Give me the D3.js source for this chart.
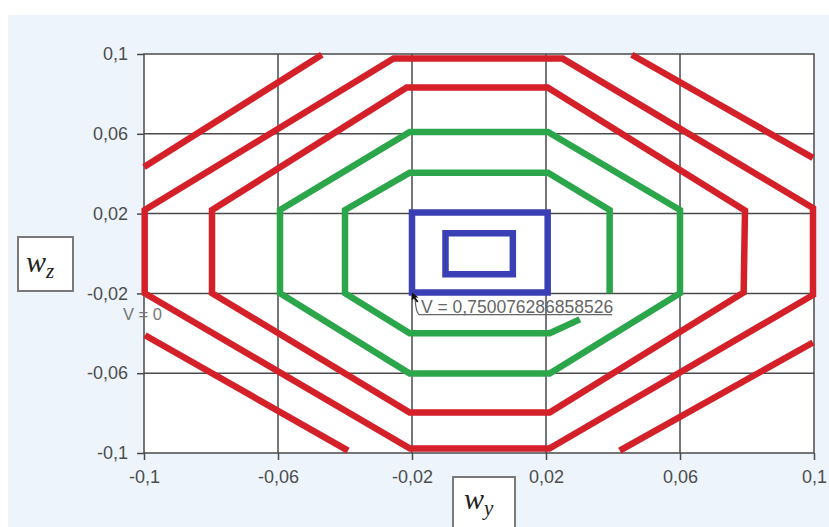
<!DOCTYPE html>
<html>
<head>
<meta charset="utf-8">
<script src="https://cdn.jsdelivr.net/npm/d3@7/dist/d3.min.js"></script>
<style>
  html, body { margin: 0; padding: 0; background: #fff; }
  svg { display: block; }
</style>
</head>
<body>
<svg id="chart" width="829" height="527"></svg>
<script>
// Level curves of V(wy, wz) (data units)
var xTicks = [-0.1, -0.06, -0.02, 0.02, 0.06, 0.1];
var yTicks = [-0.1, -0.06, -0.02, 0.02, 0.06, 0.1];
var gridValues = [-0.06, -0.02, 0.02, 0.06];

// closed curves repeat their first point at the end
var blueInner = [[-0.01, 0.0101], [0.0101, 0.0101], [0.0101, -0.0104], [-0.01, -0.0104], [-0.01, 0.0101]];
var blueOuter = [[-0.02, 0.0205], [0.0205, 0.0205], [0.0205, -0.0196], [-0.02, -0.0196], [-0.02, 0.0205]];
var greenInner = [[0.039, -0.0199], [0.039, 0.0218], [0.0206, 0.0405], [-0.0207, 0.0405], [-0.04, 0.0218],
                  [-0.04, -0.0199], [-0.0207, -0.04], [0.0211, -0.04], [0.0301, -0.033]];
var greenOuter = [[-0.0594, 0.0218], [-0.0207, 0.0609], [0.0206, 0.0609], [0.06, 0.0218], [0.06, -0.0199],
                  [0.0211, -0.0602], [-0.0207, -0.0602], [-0.0594, -0.0199], [-0.0594, 0.0218]];
var redInner = [[-0.0797, 0.0218], [-0.0216, 0.0832], [0.0205, 0.0832], [0.0794, 0.0215], [0.0790, -0.0195],
                [0.0211, -0.0797], [-0.0207, -0.0797], [-0.0797, -0.0199], [-0.0797, 0.0218]];
var redOuter = [[-0.0998, 0.0218], [-0.0255, 0.0977], [0.025, 0.0977], [0.0997, 0.0228], [0.0997, -0.0208],
                [0.021, -0.0978], [-0.0206, -0.0978], [-0.0998, -0.0199], [-0.0998, 0.0218]];
var redCornerTL = [[-0.1, 0.0434], [-0.0469, 0.0996]];
var redCornerTR = [[0.0456, 0.0996], [0.0997, 0.0479]];
var redCornerBL = [[-0.0997, -0.041], [-0.0391, -0.0988]];
var redCornerBR = [[0.042, -0.0988], [0.0997, -0.0446]];

var levels = [
  {color: "#d42129", points: redOuter},
  {color: "#d42129", points: redInner},
  {color: "#d42129", points: redCornerTL},
  {color: "#d42129", points: redCornerTR},
  {color: "#d42129", points: redCornerBL},
  {color: "#d42129", points: redCornerBR},
  {color: "#2ca64b", points: greenOuter},
  {color: "#2ca64b", points: greenInner},
  {color: "#3b3fb6", points: blueOuter},
  {color: "#3b3fb6", points: blueInner}
];

var markerPoint = [-0.02, -0.0196];
var markerLabel = "V = 0,750076286858526";
var zeroLabel = "V = 0";

(function() {
  'use strict';

  var svg = d3.select("#chart");
  var plot = {left: 144, top: 54, width: 670, height: 399};

  var x = d3.scaleLinear().domain([-0.1, 0.1]).range([plot.left, plot.left + plot.width]);
  var y = d3.scaleLinear().domain([-0.1, 0.1]).range([plot.top + plot.height, plot.top]);

  var fmt = function(d) { return String(+d.toFixed(2)).replace(".", ","); };

  // light blue panel behind the chart
  svg.append("rect")
    .attr("x", 8).attr("y", 15).attr("width", 821).attr("height", 512)
    .attr("fill", "#edf4fb");

  svg.append("rect")
    .attr("x", plot.left).attr("y", plot.top)
    .attr("width", plot.width).attr("height", plot.height)
    .attr("fill", "#fff");

  // grid
  var grid = svg.append("g").attr("stroke", "#4a4a4a").attr("stroke-width", 1.5);
  grid.selectAll("line.v").data(gridValues).enter().append("line")
    .attr("x1", function(d) { return x(d); }).attr("x2", function(d) { return x(d); })
    .attr("y1", plot.top).attr("y2", plot.top + plot.height);
  grid.selectAll("line.h").data(gridValues).enter().append("line")
    .attr("y1", function(d) { return y(d); }).attr("y2", function(d) { return y(d); })
    .attr("x1", plot.left).attr("x2", plot.left + plot.width);

  svg.append("rect")
    .attr("x", plot.left).attr("y", plot.top)
    .attr("width", plot.width).attr("height", plot.height)
    .attr("fill", "none").attr("stroke", "#4a4a4a").attr("stroke-width", 1.5);

  // axes
  var yAxis = svg.append("g")
    .attr("transform", "translate(" + plot.left + ",0)")
    .call(d3.axisLeft(y).tickValues(yTicks).tickFormat(fmt).tickSize(7).tickSizeOuter(0).tickPadding(9));
  var xAxis = svg.append("g")
    .attr("transform", "translate(0," + (plot.top + plot.height) + ")")
    .call(d3.axisBottom(x).tickValues(xTicks).tickFormat(fmt).tickSize(7).tickSizeOuter(0).tickPadding(10));

  [xAxis, yAxis].forEach(function(a) {
    a.select(".domain").remove();
    a.selectAll(".tick line").attr("stroke", "#4a4a4a").attr("stroke-width", 1.5);
    a.selectAll(".tick text")
      .attr("fill", "#4d4d4d")
      .style("font-family", "'Liberation Sans', Arial, sans-serif")
      .style("font-size", "18px");
  });

  svg.append("text")
    .attr("x", x(-0.1) - 21).attr("y", y(-0.0335))
    .attr("fill", "#777")
    .style("font-family", "'Liberation Sans', Arial, sans-serif")
    .style("font-size", "16.5px")
    .text(zeroLabel);

  // level curves
  var line = d3.line()
    .x(function(d) { return x(d[0]); })
    .y(function(d) { return y(d[1]); });

  function isClosed(p) {
    var a = p[0], b = p[p.length - 1];
    return p.length > 2 && a[0] === b[0] && a[1] === b[1];
  }

  svg.append("g").selectAll("path").data(levels).enter().append("path")
    .attr("d", function(d) {
      return isClosed(d.points) ? line(d.points.slice(0, -1)) + "Z" : line(d.points);
    })
    .attr("fill", "none")
    .attr("stroke", function(d) { return d.color; })
    .attr("stroke-width", 6.5)
    .attr("stroke-linejoin", "miter");

  // tooltip like label at the marked point
  var mx = x(markerPoint[0]), my = y(markerPoint[1]);
  var tip = svg.append("g");
  tip.append("path")
    .attr("d", "M" + (mx + 3) + "," + (my + 6) + " Q" + (mx + 4) + "," + (my + 20) + " " + (mx + 7) + "," + (my + 22) +
               " L" + (mx + 200) + "," + (my + 22))
    .attr("fill", "none").attr("stroke", "#666").attr("stroke-width", 1.2);
  tip.append("path")
    .attr("d", "M" + mx + "," + my + " l0,8 l2,-2 l3,4 l1.5,-1 l-3,-4 l3,0 Z")
    .attr("fill", "#111");
  tip.append("text")
    .attr("x", mx + 9).attr("y", my + 20)
    .attr("fill", "#666")
    .style("font-family", "'Liberation Sans', Arial, sans-serif")
    .style("font-size", "17.5px")
    .text(markerLabel);

  // axis name boxes
  function nameBox(bx, by, bw, bh, sub, tx, ty) {
    var g = svg.append("g");
    g.append("rect")
      .attr("x", bx).attr("y", by).attr("width", bw).attr("height", bh)
      .attr("fill", "#fff").attr("stroke", "#7a7a7a").attr("stroke-width", 2);
    var t = g.append("text")
      .attr("x", tx).attr("y", ty)
      .attr("fill", "#222")
      .style("font-family", "'Liberation Serif', 'DejaVu Serif', serif")
      .style("font-style", "italic")
      .style("font-size", "30px");
    t.append("tspan").text("w");
    t.append("tspan").attr("dy", 6).style("font-size", "21px").text(sub);
  }
  nameBox(18, 237, 55, 54, "z", 26, 272);
  nameBox(453, 477, 62, 60, "y", 464, 509);
})();
</script>
</body>
</html>
